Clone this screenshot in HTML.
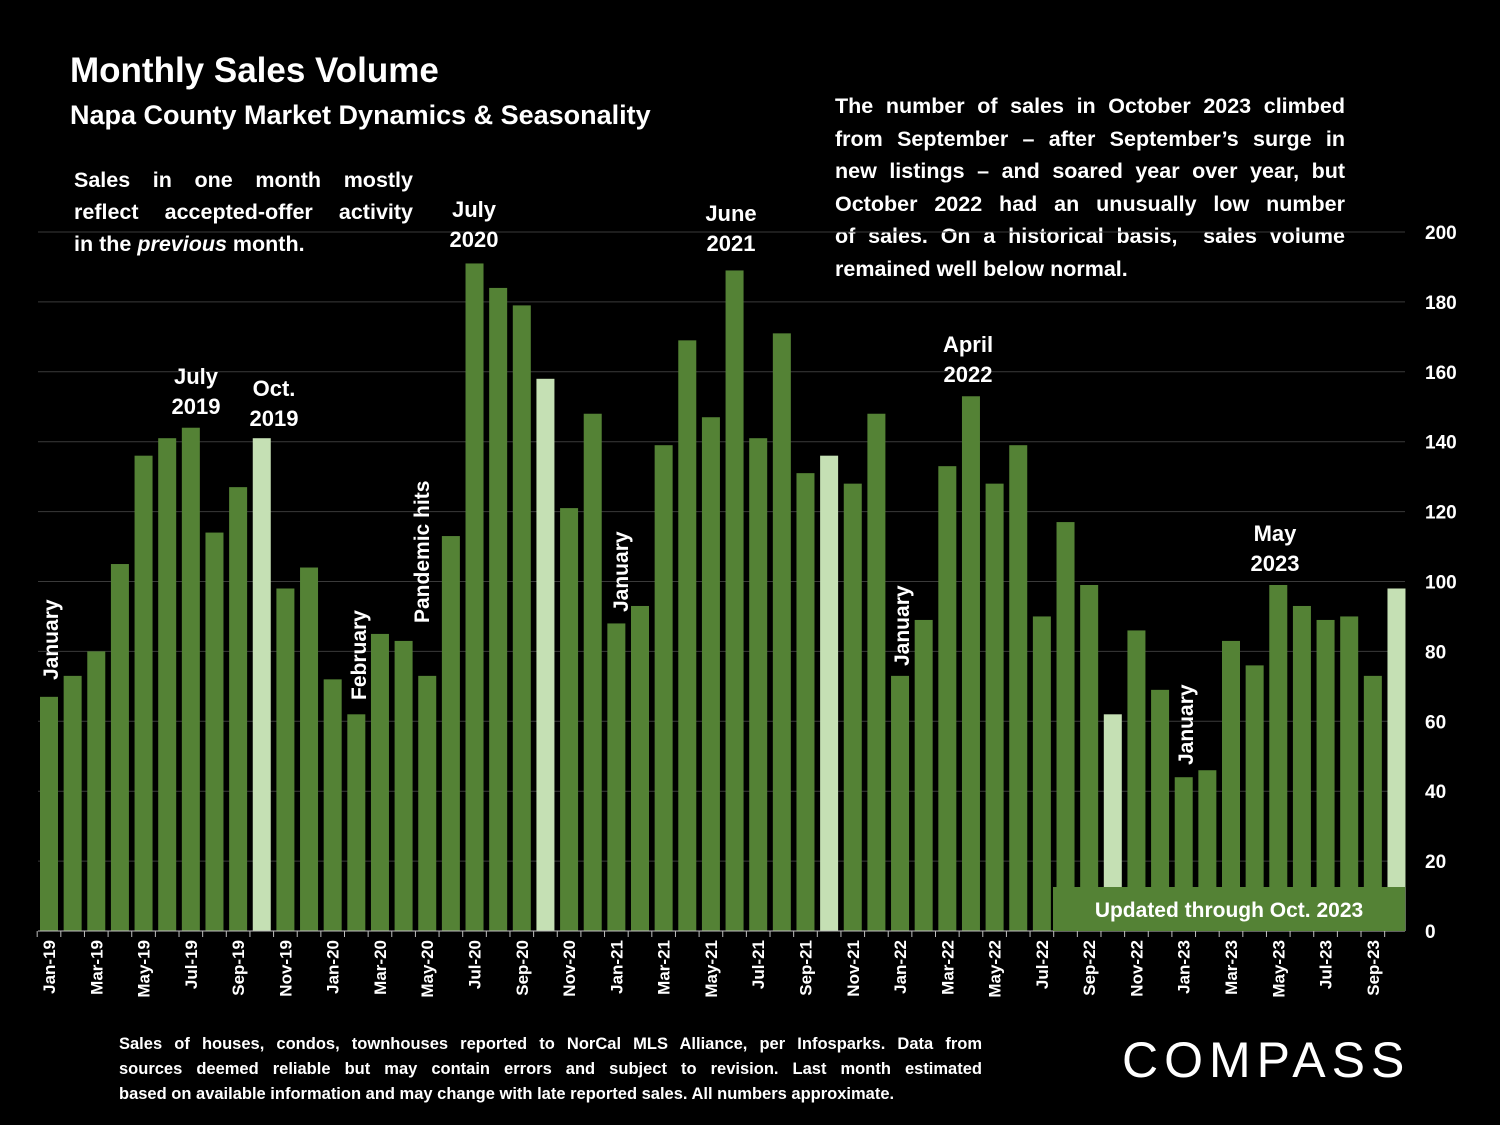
<!DOCTYPE html>
<html><head><meta charset="utf-8">
<style>
body{margin:0;background:#000;}
#wrap{position:relative;width:1500px;height:1125px;background:#000;overflow:hidden;font-family:"Liberation Sans",Arial,sans-serif;color:#fff;font-weight:bold;}
.t{position:absolute;color:#fff;}
.j{text-align:justify;text-align-last:justify;white-space:nowrap;}
.l{text-align:left;white-space:nowrap;}
</style></head>
<body>
<div id="wrap">
<div class="t" style="left:70px;top:51px;font-size:35px;">Monthly Sales Volume</div>
<div class="t" style="left:70px;top:100px;font-size:27px;">Napa County Market Dynamics &amp; Seasonality</div>
<div class="t" style="left:74px;top:164px;width:339px;font-size:21.5px;line-height:32px;">
<div class="j">Sales in one month mostly</div><div class="j">reflect accepted-offer activity</div><div class="l">in the <i>previous</i> month.</div></div>
<div class="t" style="left:835px;top:90px;width:510px;font-size:21.5px;line-height:32.5px;">
<div class="j">The number of sales in October 2023 climbed</div>
<div class="j">from September – after September’s surge in</div>
<div class="j">new listings – and soared year over year, but</div>
<div class="j">October 2022 had an unusually low number</div>
<div class="j">of sales. On a historical basis,&nbsp; sales volume</div>
<div class="l">remained well below normal.</div></div>
<div class="t" style="left:119px;top:1032px;width:863px;font-size:16.5px;line-height:25px;">
<div class="j">Sales of houses, condos, townhouses reported to NorCal MLS Alliance, per Infosparks. Data from</div>
<div class="j">sources deemed reliable but may contain errors and subject to revision. Last month estimated</div>
<div class="l">based on available information and may change with late reported sales. All numbers approximate.</div></div>
<div class="t" style="left:1122px;top:1031px;font-size:50px;font-weight:normal;letter-spacing:6px;">COMPASS</div>
<svg id="chart" width="1500" height="1125" style="position:absolute;left:0;top:0"></svg>
</div>
<script>
const categories=["Jan-19","Feb-19","Mar-19","Apr-19","May-19","Jun-19","Jul-19","Aug-19","Sep-19","Oct-19","Nov-19","Dec-19","Jan-20","Feb-20","Mar-20","Apr-20","May-20","Jun-20","Jul-20","Aug-20","Sep-20","Oct-20","Nov-20","Dec-20","Jan-21","Feb-21","Mar-21","Apr-21","May-21","Jun-21","Jul-21","Aug-21","Sep-21","Oct-21","Nov-21","Dec-21","Jan-22","Feb-22","Mar-22","Apr-22","May-22","Jun-22","Jul-22","Aug-22","Sep-22","Oct-22","Nov-22","Dec-22","Jan-23","Feb-23","Mar-23","Apr-23","May-23","Jun-23","Jul-23","Aug-23","Sep-23","Oct-23"];
const sales=[67,73,80,105,136,141,144,114,127,141,98,104,72,62,85,83,73,113,191,184,179,158,121,148,88,93,139,169,147,189,141,171,131,136,128,148,73,89,133,153,128,139,90,117,99,62,86,69,44,46,83,76,99,93,89,90,73,98];
const highlighted=["Oct-19","Oct-20","Oct-21","Oct-22","Oct-23"];
const yTicks=[0,20,40,60,80,100,120,140,160,180,200];
const NS="http://www.w3.org/2000/svg";
const svg=document.getElementById('chart');
const x0=38,step=23.64,bw=18,yBase=931,yTop=232,yMax=200;
const xc=i=>x0+11+i*step;
const y=v=>yBase-(v/yMax)*(yBase-yTop);
function mk(t,a){const e=document.createElementNS(NS,t);for(const k in a)e.setAttribute(k,a[k]);svg.appendChild(e);return e;}
yTicks.forEach(v=>{
  if(v>0){const g=mk('line',{x1:x0,x2:1405,y1:y(v),y2:y(v),stroke:'#3a3a3a','stroke-width':1});
  
  }
  const t=mk('text',{x:1425,y:y(v)+7,fill:'#fff','font-size':19,'font-weight':'bold','font-family':'Liberation Sans, sans-serif'});
  t.textContent=v;
  
  
});
sales.forEach((v,i)=>{
  const r=mk('rect',{x:xc(i)-bw/2,y:y(v),width:bw,height:yBase-y(v),fill:highlighted.includes(categories[i])?'#c5e0b4':'#548235'});
  
  
  const tk=mk('line',{x1:xc(i)-step/2,x2:xc(i)-step/2,y1:yBase,y2:yBase+6,stroke:'#bfbfbf'});
  
  
  if(i%2===0){
    const t=mk('text',{x:0,y:0,fill:'#fff','font-size':17,'font-weight':'bold','font-family':'Liberation Sans, sans-serif','text-anchor':'end',transform:`translate(${xc(i)+6},${yBase+9}) rotate(-90)`});
    t.textContent=categories[i];
    
    
  }
});
const ax=mk('line',{x1:x0,x2:1405,y1:yBase,y2:yBase,stroke:'#bfbfbf'});


const ub=mk('rect',{x:1053,y:887,width:352,height:44,fill:'#548235'});


const ut=mk('text',{x:1229,y:917,fill:'#fff','font-size':21,'font-weight':'bold','text-anchor':'middle','font-family':'Liberation Sans, sans-serif'});
ut.textContent='Updated through Oct. 2023';


const annH=[["July","2019",196,384],["Oct.","2019",274,396],["July","2020",474,217],["June","2021",731,221],["April","2022",968,352],["May","2023",1275,541]];
annH.forEach(a=>{[a[0],a[1]].forEach((s,k)=>{
  const t=mk('text',{x:a[2],y:a[3]+k*30,fill:'#fff','font-size':22,'font-weight':'bold','text-anchor':'middle','font-family':'Liberation Sans, sans-serif'});
  t.textContent=s;
  
  
});});
const annV=[["January",58,680],["February",366,700],["Pandemic hits",429,623],["January",628,612],["January",909,666],["January",1193,765]];
annV.forEach(a=>{
  const t=mk('text',{x:0,y:0,fill:'#fff','font-size':21,'font-weight':'bold','font-family':'Liberation Sans, sans-serif',transform:`translate(${a[1]},${a[2]}) rotate(-90)`});
  t.textContent=a[0];
  
  
});
</script>
</body></html>
